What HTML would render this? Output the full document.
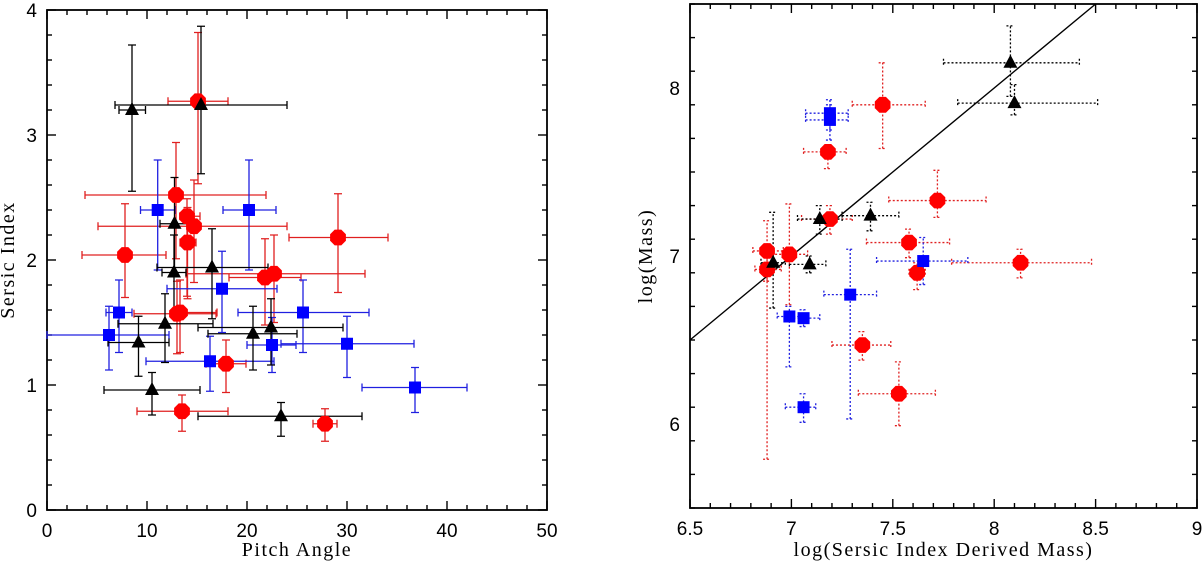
<!DOCTYPE html>
<html><head><meta charset="utf-8"><style>
html,body{margin:0;padding:0;background:#fff;}
svg{display:block;}
text{font-family:"Liberation Sans",sans-serif;fill:#000;}
text.title{font-family:"Liberation Serif",serif;letter-spacing:1.5px;}
</style></head><body>
<svg id="chart" width="1203" height="564" viewBox="0 0 1203 564" xmlns="http://www.w3.org/2000/svg"></svg>
<script>
// ---- Left panel data (Pitch Angle vs Sersic Index) ----
const redPA   = [15.1,12.9,14.0,14.7,14.05,7.8,29.1,21.8,22.7,13.0,13.3,17.9,13.5,27.8];
const redN    = [3.27,2.52,2.35,2.27,2.14,2.04,2.18,1.86,1.89,1.57,1.58,1.17,0.79,0.69];
const redPAlo = [12.1,3.8,13.3,5.1,13.3,3.5,24.2,18.2,13.9,8.7,12.7,15.9,9.0,26.6];
const redPAhi = [18.1,21.9,15.3,24.0,14.9,11.9,34.1,25.4,31.8,16.9,17.0,19.9,18.1,29.0];
const redNlo  = [2.61,2.01,1.71,1.82,1.69,1.70,1.74,1.48,1.50,1.25,1.26,0.94,0.63,0.55];
const redNhi  = [3.82,2.94,2.49,2.64,2.42,2.45,2.53,2.17,2.20,1.83,1.84,1.36,0.92,0.81];

const bluePA   = [11.07,20.2,17.5,7.2,6.2,25.6,16.3,22.5,30.0,36.8];
const blueN    = [2.40,2.40,1.77,1.58,1.40,1.58,1.19,1.32,1.33,0.98];
const bluePAlo = [9.35,17.6,12.0,5.9,0.0,19.1,9.9,20.0,23.4,31.5];
const bluePAhi = [12.8,22.9,23.0,8.5,12.2,32.2,22.7,24.9,36.7,42.0];
const blueNlo  = [1.92,1.92,1.42,1.26,1.12,1.26,0.95,1.10,1.06,0.78];
const blueNhi  = [2.80,2.80,2.07,1.84,1.63,1.84,1.39,1.54,1.55,1.14];

const blkPA   = [8.5,15.4,12.75,12.7,16.5,11.8,9.15,20.6,22.4,10.5,23.4];
const blkN    = [3.20,3.24,2.29,1.90,1.94,1.49,1.34,1.41,1.46,0.96,0.75];
const blkPAlo = [7.2,6.8,11.3,11.5,11.0,7.1,6.1,16.1,15.1,5.7,15.1];
const blkPAhi = [9.85,24.0,14.05,13.9,22.1,16.6,12.2,25.0,29.6,15.3,31.5];
const blkNlo  = [2.55,2.69,1.89,1.58,1.53,1.18,1.07,1.12,1.16,0.76,0.59];
const blkNhi  = [3.72,3.87,2.66,2.20,2.25,1.73,1.55,1.63,1.69,1.10,0.86];

// ---- Right panel data (Sersic derived mass vs mass) ----
const redSM   = [7.45,7.18,7.72,7.19,7.58,6.88,6.99,6.88,8.13,7.62,7.35,7.53];
const redM    = [7.90,7.62,7.33,7.22,7.08,7.03,7.01,6.92,6.96,6.90,6.47,6.18];
const redSMlo = [7.30,7.06,7.48,7.05,7.37,6.81,6.90,6.82,7.79,7.58,7.20,7.33];
const redSMhi = [7.66,7.27,7.96,7.30,7.78,6.96,7.08,6.95,8.48,7.66,7.49,7.71];
const redMlo  = [7.64,7.52,7.23,7.13,6.99,6.85,6.71,5.79,6.87,6.80,6.38,5.99];
const redMhi  = [8.15,7.66,7.51,7.30,7.16,7.21,7.31,7.00,7.04,6.96,6.55,6.37];

const blueSM   = [7.19,7.19,7.65,7.29,6.99,7.06,7.06];
const blueM    = [7.85,7.81,6.97,6.77,6.64,6.63,6.10];
const blueSMlo = [7.07,7.07,7.42,7.16,6.93,7.01,6.97];
const blueSMhi = [7.28,7.28,7.87,7.42,7.04,7.14,7.12];
const blueMlo  = [7.75,7.69,6.83,6.03,6.34,6.58,6.01];
const blueMhi  = [7.93,7.90,7.11,7.04,6.70,6.68,6.18];

const blkSM   = [8.08,8.10,7.14,7.39,6.91,7.09];
const blkM    = [8.15,7.91,7.22,7.24,6.96,6.95];
const blkSMlo = [7.75,7.82,7.03,7.25,6.85,6.99];
const blkSMhi = [8.42,8.51,7.25,7.53,6.97,7.17];
const blkMlo  = [7.95,7.84,7.13,7.15,6.69,6.90];
const blkMhi  = [8.37,8.02,7.30,7.32,7.26,7.00];

const lineX = [6.5, 8.5];
const lineY = [6.5, 8.5];

const leftXTicks = [0,10,20,30,40,50];
const leftYTicks = [0,1,2,3,4];
const rightXTicks = [6.5,7,7.5,8,8.5,9];
const rightYTicks = [6,7,8];

const NS='http://www.w3.org/2000/svg';
const svg=document.getElementById('chart');
function mk(tag,attrs,parent){const e=document.createElementNS(NS,tag);for(const k in attrs)e.setAttribute(k,attrs[k]);(parent||svg).appendChild(e);return e;}

function panel(name,x0,x1,y0,y1,xmin,xmax,ymin,ymax,xmaj,xmin_step,ymaj,ymin_step,xticks,yticks,xtitle,ytitle,ytitleX){
  const g=mk('g',{});
  
  
  const sx=v=>x0+(v-xmin)/(xmax-xmin)*(x1-x0);
  const sy=v=>y1-(v-ymin)/(ymax-ymin)*(y1-y0);
  const fr=mk('rect',{x:x0,y:y0,width:x1-x0,height:y1-y0,fill:'none',stroke:'#000','stroke-width':1.8},g);
  
  
  const eps=1e-6;
  for(let v=xmin;v<=xmax+eps;v+=xmin_step){
    const maj=Math.abs(v/xmaj-Math.round(v/xmaj))<1e-4;const L=maj?9:5;const X=sx(v);
    mk('line',{x1:X,x2:X,y1:y1,y2:y1-L,stroke:'#000','stroke-width':1.4},g);
    mk('line',{x1:X,x2:X,y1:y0,y2:y0+L,stroke:'#000','stroke-width':1.4},g);
  }
  for(let v=ymin;v<=ymax+eps;v+=ymin_step){
    const maj=Math.abs(v/ymaj-Math.round(v/ymaj))<1e-4;const L=maj?9:5;const Y=sy(v);
    mk('line',{x1:x0,x2:x0+L,y1:Y,y2:Y,stroke:'#000','stroke-width':1.4},g);
    mk('line',{x1:x1,x2:x1-L,y1:Y,y2:Y,stroke:'#000','stroke-width':1.4},g);
  }
  xticks.forEach(v=>{const t=mk('text',{x:sx(v),y:y1+27,'text-anchor':'middle','font-size':19},g);t.textContent=v;
    
    });
  yticks.forEach(v=>{const t=mk('text',{x:x0-10,y:sy(v)+7,'text-anchor':'end','font-size':19},g);t.textContent=v;
    
    });
  const xt=mk('text',{x:(x0+x1)/2,y:556,'text-anchor':'middle','font-size':20,'class':'title'},g);xt.textContent=xtitle;
  
  
  const yc=(y0+y1)/2;
  const yt=mk('text',{x:ytitleX,y:yc,'text-anchor':'middle','font-size':20,'class':'title',transform:`rotate(-90 ${ytitleX} ${yc})`},g);yt.textContent=ytitle;
  
  
  return {g,sx,sy};
}

function errbars(p,xs,ys,xlo,xhi,ylo,yhi,color,dotted){
  const da=dotted?'2,2':'none';
  for(let i=0;i<xs.length;i++){
    const X=p.sx(xs[i]),Y=p.sy(ys[i]);
    const a=p.sx(xlo[i]),b=p.sx(xhi[i]),c=p.sy(ylo[i]),d=p.sy(yhi[i]);
    const e=mk('path',{d:`M${a},${Y}H${b}M${X},${c}V${d}M${a},${Y-4}V${Y+4}M${b},${Y-4}V${Y+4}M${X-4},${c}H${X+4}M${X-4},${d}H${X+4}`,stroke:color,'stroke-width':1.3,fill:'none','stroke-dasharray':da},p.g);
    
    
  }
}
function markers(p,xs,ys,shape,color){
  for(let i=0;i<xs.length;i++){
    const X=p.sx(xs[i]),Y=p.sy(ys[i]);let e;
    if(shape==='oct'){let pts=[];for(let k=0;k<8;k++){const an=Math.PI/8+k*Math.PI/4;pts.push((X+8.5*Math.cos(an)).toFixed(1)+','+(Y+8.5*Math.sin(an)).toFixed(1));}
      e=mk('polygon',{points:pts.join(' '),fill:color},p.g);}
    else if(shape==='sq'){e=mk('rect',{x:X-6,y:Y-6,width:12,height:12,fill:color},p.g);}
    else {e=mk('polygon',{points:`${X},${Y-8} ${X-7},${Y+5} ${X+7},${Y+5}`,fill:color},p.g);}
    
    
  }
}

const L=panel('left-panel',47,547,10,510,0,50,0,4,10,2,1,0.2,leftXTicks,leftYTicks,'Pitch Angle','Sersic Index',14);
errbars(L,redPA,redN,redPAlo,redPAhi,redNlo,redNhi,'#e02020',false);
errbars(L,bluePA,blueN,bluePAlo,bluePAhi,blueNlo,blueNhi,'#2020e0',false);
errbars(L,blkPA,blkN,blkPAlo,blkPAhi,blkNlo,blkNhi,'#000',false);
markers(L,redPA,redN,'oct','#f00');
markers(L,bluePA,blueN,'sq','#00f');
markers(L,blkPA,blkN,'tri','#000');

const R=panel('right-panel',690,1197,4,508,6.5,9,5.5,8.5,0.5,0.1,1,0.2,rightXTicks,rightYTicks,'log(Sersic Index Derived Mass)','log(Mass)',652);
const ln=mk('line',{x1:R.sx(lineX[0]),y1:R.sy(lineY[0]),x2:R.sx(lineX[1]),y2:R.sy(lineY[1]),stroke:'#000','stroke-width':1.4},R.g);


errbars(R,redSM,redM,redSMlo,redSMhi,redMlo,redMhi,'#e02020',true);
errbars(R,blueSM,blueM,blueSMlo,blueSMhi,blueMlo,blueMhi,'#2020e0',true);
errbars(R,blkSM,blkM,blkSMlo,blkSMhi,blkMlo,blkMhi,'#000',true);
markers(R,redSM,redM,'oct','#f00');
markers(R,blueSM,blueM,'sq','#00f');
markers(R,blkSM,blkM,'tri','#000');
</script>
</body></html>
